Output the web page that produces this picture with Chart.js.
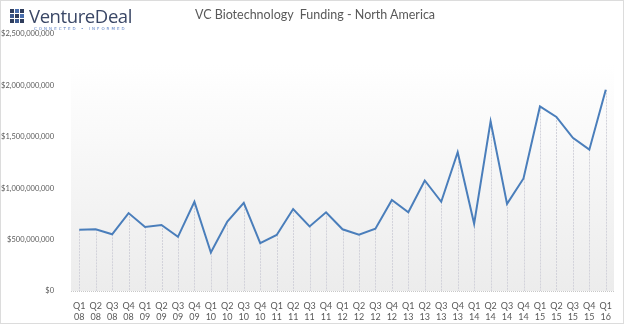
<!DOCTYPE html>
<html>
<head>
<meta charset="utf-8">
<script src="https://cdn.jsdelivr.net/npm/chart.js@4/dist/chart.umd.min.js"></script>
<style>
  html, body { margin: 0; padding: 0; background: #fff; }
  #wrap { position: relative; width: 624px; height: 324px; box-sizing: border-box; border: 1px solid #dcdcdc; overflow: hidden; }
  #c { position: absolute; left: 0; top: 0; }
  #logo { position: absolute; left: 9px; top: 4px; height: 24px; }
  #logo .icon { position: absolute; left: 0; top: 4px; width: 15px; height: 15px; }
  #logo .icon i { position: absolute; width: 4px; height: 4px; background: #2f3d5c; }
  #logo .name { position: absolute; left: 19px; top: -2px; font-family: "Open Sans", sans-serif; font-size: 18.5px; color: #3a4766; letter-spacing: -0.4px; white-space: nowrap; }
  #logo .tag { position: absolute; left: 24px; top: 21px; font-family: "DejaVu Sans", sans-serif; font-size: 4px; color: #5b80c6; letter-spacing: 2.05px; white-space: nowrap; }
  #title { position: absolute; left: 0; width: 628px; top: 6px; text-align: center; font-family: Lato, sans-serif; font-size: 12.5px; color: #595959; white-space: pre; }
</style>
</head>
<body>
<div id="wrap">
  <canvas id="c" width="622" height="322"></canvas>
  <div id="logo">
    <div class="icon" id="icon"></div>
    <div class="name">VentureDeal</div>
    <div class="tag">CONNECTED • INFORMED</div>
  </div>
  <div id="title">VC Biotechnology  Funding - North America</div>
</div>
<script>
// Quarterly North American VC biotechnology funding (USD)
const quarters = ["Q1","Q2","Q3","Q4","Q1","Q2","Q3","Q4","Q1","Q2","Q3","Q4","Q1","Q2","Q3","Q4",
                  "Q1","Q2","Q3","Q4","Q1","Q2","Q3","Q4","Q1","Q2","Q3","Q4","Q1","Q2","Q3","Q4","Q1"];
const years = ["08","08","08","08","09","09","09","09","10","10","10","10","11","11","11","11",
               "12","12","12","12","13","13","13","13","14","14","14","14","15","15","15","15","16"];
const funding = [
  595000000, 600000000, 552000000, 758000000,
  622000000, 642000000, 527000000, 868000000,
  375000000, 675000000, 858000000, 465000000,
  545000000, 797000000, 628000000, 765000000,
  600000000, 547000000, 605000000, 886000000,
  766000000, 1075000000, 868000000, 1350000000,
  655000000, 1650000000, 848000000, 1095000000,
  1795000000, 1693000000, 1490000000, 1375000000,
  1958000000
];
const yTicks = [0, 500000000, 1000000000, 1500000000, 2000000000, 2500000000];

// logo squares
(function () {
  const icon = document.getElementById('icon');
  const shades = ['#2f3d5c','#4a6fae','#2f3d5c','#3d5a8f','#2f3d5c','#4a6fae','#2f3d5c','#3d5a8f','#2f3d5c'];
  for (let r = 0; r < 3; r++) for (let c = 0; c < 3; c++) {
    const s = document.createElement('i');
    s.style.left = (c * 5) + 'px';
    s.style.top = (r * 5) + 'px';
    s.style.background = shades[r * 3 + c];
    icon.appendChild(s);
  }
})();

// plot-area gradient background
const plotBackground = {
  id: 'plotBackground',
  beforeDraw(chart) {
    const { ctx, chartArea: a } = chart;
    const top = chart.scales.y.getPixelForValue(2200000000);
    const g = ctx.createLinearGradient(0, top, 0, a.bottom);
    g.addColorStop(0, 'rgba(255,255,255,1)');
    g.addColorStop(1, '#ececec');
    ctx.save();
    ctx.fillStyle = g;
    ctx.fillRect(a.left, top, a.right - a.left, a.bottom - top);
    ctx.restore();
  }
};

// vertical drop lines from each point to the baseline
const dropLines = {
  id: 'dropLines',
  beforeDatasetsDraw(chart) {
    const { ctx, chartArea: a } = chart;
    const pts = chart.getDatasetMeta(0).data;
    ctx.save();
    ctx.strokeStyle = '#d2d2da';
    ctx.lineWidth = 1;
    ctx.setLineDash([2, 1]);
    pts.forEach(p => {
      const x = Math.round(p.x) + 0.5;
      ctx.beginPath();
      ctx.moveTo(x, p.y);
      ctx.lineTo(x, a.bottom);
      ctx.stroke();
    });
    ctx.setLineDash([1, 1]);
    ctx.strokeStyle = '#c8c8c8';
    ctx.beginPath();
    ctx.moveTo(a.left, a.bottom + 0.5);
    ctx.lineTo(a.right, a.bottom + 0.5);
    ctx.stroke();
    ctx.restore();
  }
};

new Chart(document.getElementById('c'), {
  type: 'line',
  data: {
    labels: quarters.map((q, i) => [q, years[i]]),
    datasets: [{
      data: funding,
      borderColor: '#4a7ebb',
      borderWidth: 2,
      pointRadius: 0,
      tension: 0,
      fill: false
    }]
  },
  options: {
    responsive: false,
    animation: false,
    events: [],
    layout: { padding: { left: 0, right: 9, top: 33, bottom: 0 } },
    plugins: { legend: { display: false }, tooltip: { enabled: false } },
    scales: {
      x: {
        offset: true,
        grid: { display: false },
        border: { display: false },
        ticks: {
          autoSkip: false,
          maxRotation: 0,
          padding: 2,
          color: '#595959',
          font: { family: 'Lato, sans-serif', size: 9 },
          lineHeight: 1.25
        },
        afterFit(s) { s.height = 32; }
      },
      y: {
        min: 0,
        max: 2500000000,
        grid: { display: false },
        border: { display: false },
        afterBuildTicks(s) { s.ticks = yTicks.map(v => ({ value: v })); },
        ticks: {
          padding: 9,
          color: '#595959',
          font: { family: 'Lato, sans-serif', size: 7.5 },
          callback: v => '$' + Number(v).toLocaleString('en-US')
        },
        afterFit(s) { s.width = 70; }
      }
    }
  },
  plugins: [plotBackground, dropLines]
});
</script>
</body>
</html>
